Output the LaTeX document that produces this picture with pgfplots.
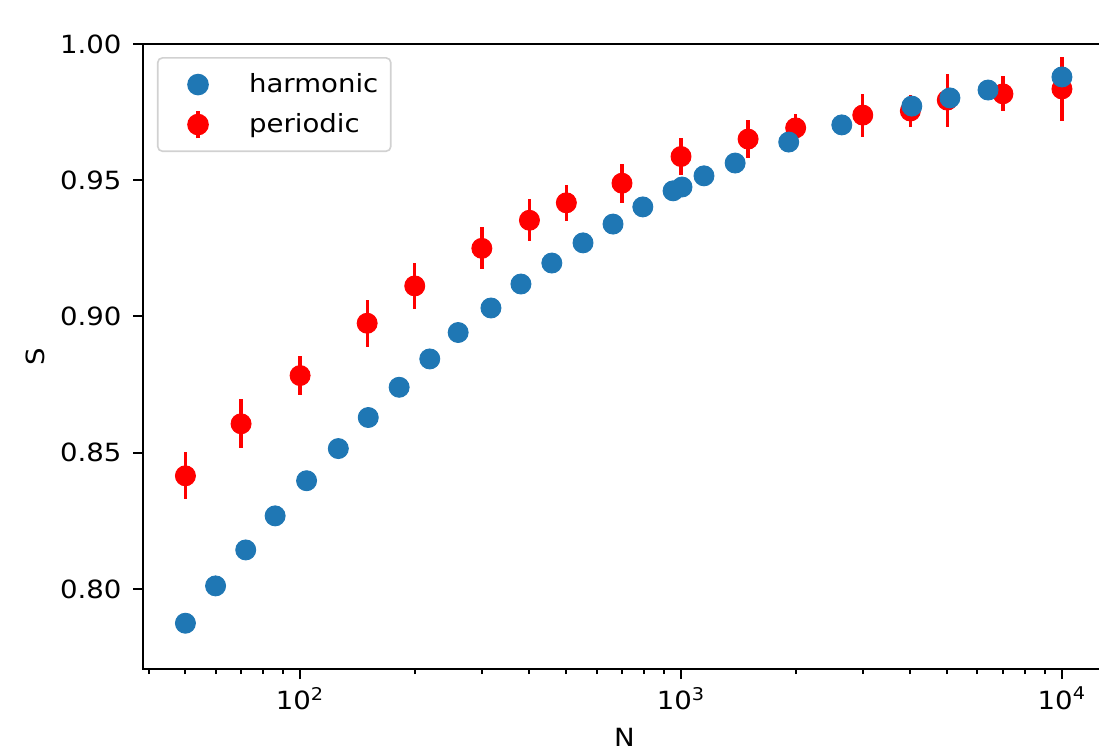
\documentclass[border=0pt]{standalone}
\usepackage{fontspec}
\setmainfont{DejaVu Sans}[FakeStretch=1.1]
\usepackage{pgfplots}
\usepackage{pgfplotstable}
\pgfplotsset{compat=1.18}
\definecolor{tabblue}{HTML}{1F77B4}

% periodic: N, S, error
\pgfplotstableread{
N S err
50 0.8415 0.0086
70 0.8606 0.0090
100 0.8783 0.0073
150 0.8975 0.0086
200 0.9112 0.0084
300 0.9250 0.0077
400 0.9353 0.0077
500 0.9417 0.0066
700 0.9489 0.0071
1000 0.9587 0.0067
1500 0.9651 0.0070
2000 0.9692 0.0050
3000 0.9739 0.0079
4000 0.9754 0.0060
5000 0.9794 0.0097
7000 0.9817 0.0064
10000 0.9835 0.0118
}\periodic

% harmonic: N, S
\pgfplotstableread{
N S
50 0.7874
60 0.8011
72 0.8143
86 0.8268
104 0.8397
126 0.8515
151 0.8629
182 0.8740
219 0.8844
260 0.8941
317 0.9031
380 0.9119
458 0.9196
553 0.9270
663 0.9339
794 0.9402
953 0.9461
1006 0.9475
1149 0.9516
1387 0.9563
1918 0.9640
2643 0.9703
4036 0.9772
5081 0.9802
6398 0.9831
10000 0.9879
}\harmonic

\begin{document}
\begin{tikzpicture}
\begin{axis}[
  width=418.7pt, height=271.75pt, scale only axis,
  xmode=log, xmin=38.7, xmax=13050,
  ymin=0.7706, ymax=1.0,
  xtick={100,1000,10000},
  xticklabels={10\textsuperscript{2},10\textsuperscript{3},10\textsuperscript{4}},
  minor xtick={40,50,60,70,80,90,200,300,400,500,600,700,800,900,2000,3000,4000,5000,6000,7000,8000,9000},
  ytick={0.80,0.85,0.90,0.95,1.00},
  yticklabel style={/pgf/number format/fixed, /pgf/number format/fixed zerofill,
    /pgf/number format/precision=2, /pgf/number format/assume math mode=true, xshift=-1.5pt},
  tick label style={font=\fontsize{10.9}{13}\selectfont},
  tick align=outside, xtick pos=bottom, ytick pos=left,
  major tick length=4.35pt, minor tick length=2.2pt,
  axis line style={line width=0.87pt},
  every tick/.style={black, line width=0.87pt},
  xlabel={N}, ylabel={S},
  label style={font=\fontsize{10.9}{13}\selectfont},
  xlabel style={at={(axis description cs:0.5,-0.1088)}, anchor=center},
  ylabel style={at={(axis description cs:-0.112,0.5)}, anchor=center, rotate=0},
  legend style={at={(0.0145,0.979)}, anchor=north west, draw=black!18, line width=0.7pt,
    rounded corners=2pt, fill=white,
    font=\fontsize{10.9}{13}\selectfont, row sep=3.6pt, inner xsep=3.4pt, inner ysep=4.7pt},
  legend cell align=left,
  reverse legend,
]
\addplot[only marks, red, mark=*, mark size=4.35pt, mark options={draw=none, fill=red},
  error bars/.cd, y dir=both, y explicit, error mark=none,
  error bar style={line width=1.45pt, red},
  /pgfplots/legend image code/.code={
    \path[draw=none, fill=none] (0pt,-6pt) rectangle (34.3pt,6pt);
    \draw[red, line width=1.45pt, rounded corners=0pt] (14.1pt,-6pt) -- (14.1pt,6pt);
    \fill[red] (14.1pt,0pt) circle (4.35pt);
  },
  ] table[x=N, y=S, y error=err] {\periodic};
\addlegendentry{periodic}
\addplot[only marks, tabblue, mark=*, mark size=4.35pt, mark options={draw=none, fill=tabblue},
  legend image code/.code={
    \path[draw=none, fill=none] (0pt,-6pt) rectangle (34.3pt,6pt);
    \fill[tabblue] (14.1pt,0pt) circle (4.35pt);
  }]
  table[x=N, y=S] {\harmonic};
\addlegendentry{harmonic}
\end{axis}
\pgfresetboundingbox
\path[use as bounding box] ([xshift=-62.18pt,yshift=-35.22pt]current axis.south west) rectangle ++(477.85pt,326.1pt);
\end{tikzpicture}
\end{document}
